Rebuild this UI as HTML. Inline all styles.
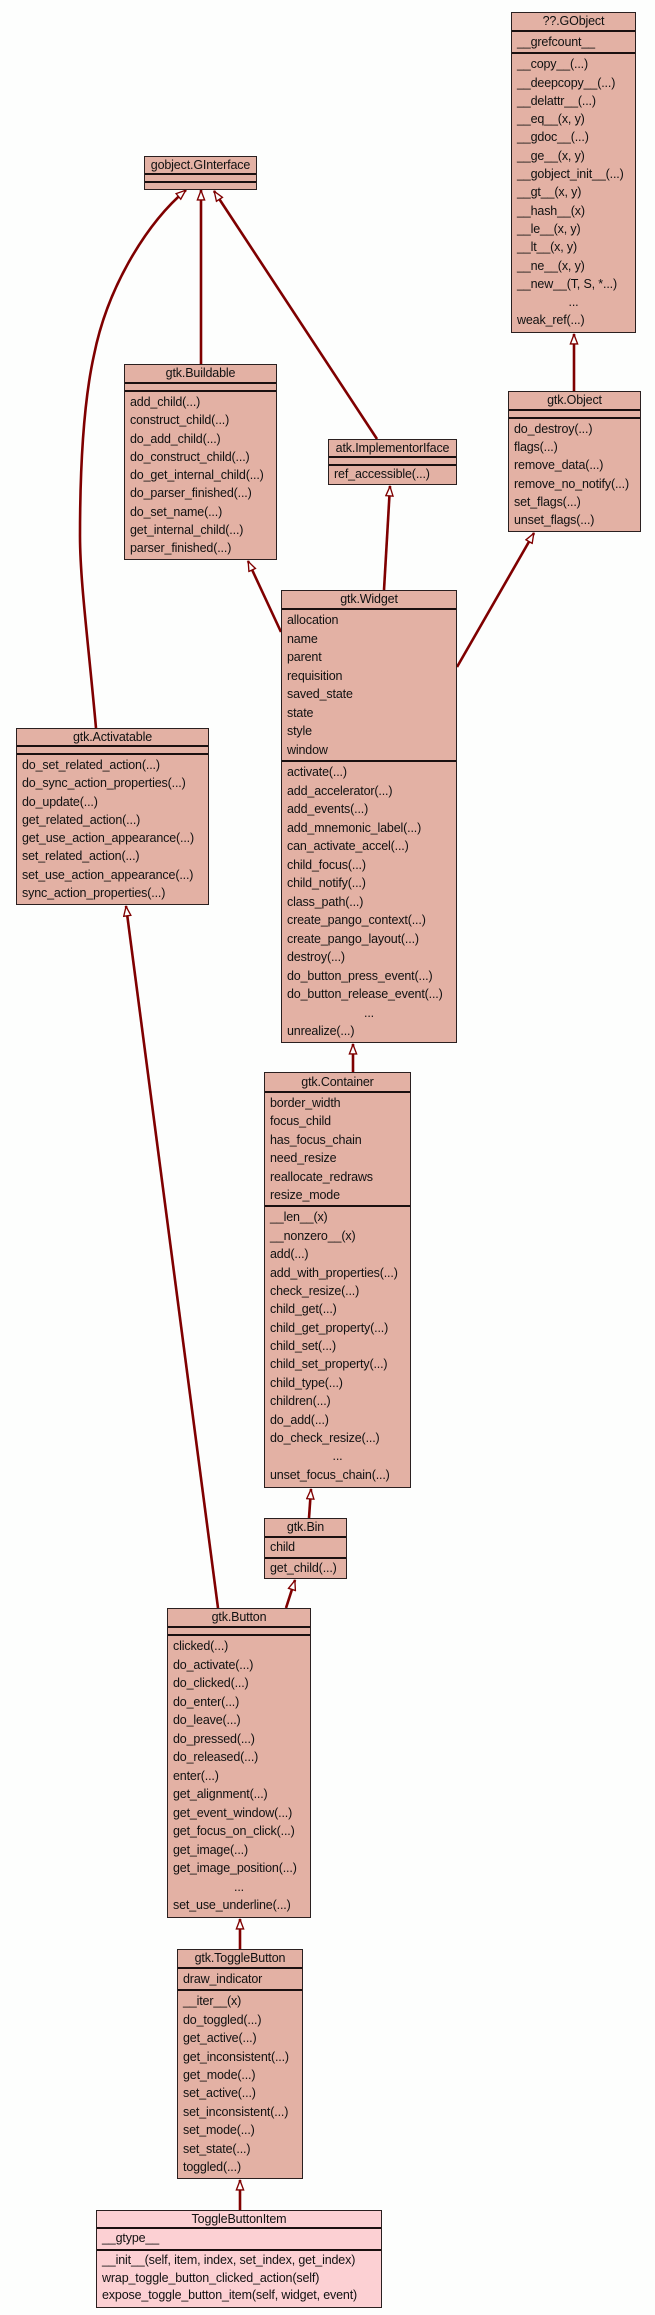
<!DOCTYPE html>
<html><head><meta charset="utf-8"><style>
html,body{margin:0;padding:0;background:#fdfefd;width:655px;height:2315px;overflow:hidden}
.b{position:absolute;box-sizing:border-box;border:1.5px solid #2a2020;background:#e3b1a4;font:12.5px "Liberation Sans",sans-serif;letter-spacing:-0.15px;color:#111;z-index:2}
.t{text-align:center;height:17px;line-height:17px;white-space:nowrap}
.s{border-top:2px solid #1a1010;padding:1px 0 1px 5px}
.s div{height:var(--r,18.4px);line-height:var(--r,18.4px);white-space:nowrap}
.s div.c{text-align:center;padding-right:5px}
.e{border-top:2px solid #1a1010;height:6px}
svg{position:absolute;left:0;top:0;z-index:1}
</style></head><body>
<svg width="655" height="2315">
<defs><marker id="a" viewBox="0 0 12 10" refX="12" refY="5" markerWidth="12" markerHeight="9" markerUnits="userSpaceOnUse" orient="auto"><path d="M1,1 L11.5,5 L1,9 z" fill="#fdfefd" stroke="#7f0000" stroke-width="1.5"/></marker></defs>
<g stroke="#7f0000" stroke-width="2.6" fill="none" marker-end="url(#a)">
<path d="M201,364 L201,190"/>
<path d="M96,728 C88,640 80,580 80,536 C80,460 84,400 94,355 C108,285 148,222 186,190"/>
<path d="M377,439 L214,191"/>
<path d="M384,590 L390,486"/>
<path d="M281,632 L248,561"/>
<path d="M457,667 L534,533"/>
<path d="M574,391 L574,334"/>
<path d="M353,1072 L353,1044"/>
<path d="M309,1518 L311,1489"/>
<path d="M286,1608 L295,1580"/>
<path d="M218,1608 L126,906"/>
<path d="M240,1949 L240,1919"/>
<path d="M240,2210 L240,2180"/>
</g></svg>

<div class="b" style="left:511px;top:12px;width:125px;height:321px">
<div class="t">??.GObject</div>
<div class="s" style="--r:18.3px"><div>__grefcount__</div></div>
<div class="s" style="--r:18.3px"><div>__copy__(...)</div><div>__deepcopy__(...)</div><div>__delattr__(...)</div><div>__eq__(x, y)</div><div>__gdoc__(...)</div><div>__ge__(x, y)</div><div>__gobject_init__(...)</div><div>__gt__(x, y)</div><div>__hash__(x)</div><div>__le__(x, y)</div><div>__lt__(x, y)</div><div>__ne__(x, y)</div><div>__new__(T, S, *...)</div><div class="c">...</div><div>weak_ref(...)</div></div>
</div>

<div class="b" style="left:144px;top:156px;width:113px;height:34px">
<div class="t" style="height:16px;line-height:16px">gobject.GInterface</div>
<div class="e"></div><div class="e" style="height:5px"></div>
</div>

<div class="b" style="left:124px;top:364px;width:153px;height:196px">
<div class="t">gtk.Buildable</div>
<div class="e"></div>
<div class="s" style="--r:18.3px"><div>add_child(...)</div><div>construct_child(...)</div><div>do_add_child(...)</div><div>do_construct_child(...)</div><div>do_get_internal_child(...)</div><div>do_parser_finished(...)</div><div>do_set_name(...)</div><div>get_internal_child(...)</div><div>parser_finished(...)</div></div>
</div>

<div class="b" style="left:328px;top:439px;width:129px;height:46px">
<div class="t" style="height:16px;line-height:16px">atk.ImplementorIface</div>
<div class="e"></div>
<div class="s" style="--r:15px"><div>ref_accessible(...)</div></div>
</div>

<div class="b" style="left:508px;top:391px;width:133px;height:141px">
<div class="t">gtk.Object</div>
<div class="e"></div>
<div class="s" style="--r:18.2px"><div>do_destroy(...)</div><div>flags(...)</div><div>remove_data(...)</div><div>remove_no_notify(...)</div><div>set_flags(...)</div><div>unset_flags(...)</div></div>
</div>

<div class="b" style="left:281px;top:590px;width:176px;height:453px">
<div class="t">gtk.Widget</div>
<div class="s" style="--r:18.5px"><div>allocation</div><div>name</div><div>parent</div><div>requisition</div><div>saved_state</div><div>state</div><div>style</div><div>window</div></div>
<div class="s" style="--r:18.5px"><div>activate(...)</div><div>add_accelerator(...)</div><div>add_events(...)</div><div>add_mnemonic_label(...)</div><div>can_activate_accel(...)</div><div>child_focus(...)</div><div>child_notify(...)</div><div>class_path(...)</div><div>create_pango_context(...)</div><div>create_pango_layout(...)</div><div>destroy(...)</div><div>do_button_press_event(...)</div><div>do_button_release_event(...)</div><div class="c">...</div><div>unrealize(...)</div></div>
</div>

<div class="b" style="left:16px;top:728px;width:193px;height:177px">
<div class="t" style="height:16px;line-height:16px">gtk.Activatable</div>
<div class="e"></div>
<div class="s" style="--r:18.25px"><div>do_set_related_action(...)</div><div>do_sync_action_properties(...)</div><div>do_update(...)</div><div>get_related_action(...)</div><div>get_use_action_appearance(...)</div><div>set_related_action(...)</div><div>set_use_action_appearance(...)</div><div>sync_action_properties(...)</div></div>
</div>

<div class="b" style="left:264px;top:1072px;width:147px;height:416px">
<div class="t" style="height:18px;line-height:18px">gtk.Container</div>
<div class="s" style="--r:18.4px"><div>border_width</div><div>focus_child</div><div>has_focus_chain</div><div>need_resize</div><div>reallocate_redraws</div><div>resize_mode</div></div>
<div class="s" style="--r:18.4px"><div>__len__(x)</div><div>__nonzero__(x)</div><div>add(...)</div><div>add_with_properties(...)</div><div>check_resize(...)</div><div>child_get(...)</div><div>child_get_property(...)</div><div>child_set(...)</div><div>child_set_property(...)</div><div>child_type(...)</div><div>children(...)</div><div>do_add(...)</div><div>do_check_resize(...)</div><div class="c">...</div><div>unset_focus_chain(...)</div></div>
</div>

<div class="b" style="left:264px;top:1518px;width:83px;height:61px">
<div class="t">gtk.Bin</div>
<div class="s" style="--r:16.5px"><div>child</div></div>
<div class="s" style="--r:16.5px"><div>get_child(...)</div></div>
</div>

<div class="b" style="left:167px;top:1608px;width:144px;height:310px">
<div class="t">gtk.Button</div>
<div class="e"></div>
<div class="s" style="--r:18.5px"><div>clicked(...)</div><div>do_activate(...)</div><div>do_clicked(...)</div><div>do_enter(...)</div><div>do_leave(...)</div><div>do_pressed(...)</div><div>do_released(...)</div><div>enter(...)</div><div>get_alignment(...)</div><div>get_event_window(...)</div><div>get_focus_on_click(...)</div><div>get_image(...)</div><div>get_image_position(...)</div><div class="c">...</div><div>set_use_underline(...)</div></div>
</div>

<div class="b" style="left:177px;top:1949px;width:126px;height:230px">
<div class="t">gtk.ToggleButton</div>
<div class="s" style="--r:18.4px"><div>draw_indicator</div></div>
<div class="s" style="--r:18.4px"><div>__iter__(x)</div><div>do_toggled(...)</div><div>get_active(...)</div><div>get_inconsistent(...)</div><div>get_mode(...)</div><div>set_active(...)</div><div>set_inconsistent(...)</div><div>set_mode(...)</div><div>set_state(...)</div><div>toggled(...)</div></div>
</div>

<div class="b" style="left:96px;top:2210px;width:286px;height:98px;background:#fcd0d3">
<div class="t" style="height:16px;line-height:16px">ToggleButtonItem</div>
<div class="s" style="--r:17.75px"><div>__gtype__</div></div>
<div class="s" style="--r:17.75px"><div>__init__(self, item, index, set_index, get_index)</div><div>wrap_toggle_button_clicked_action(self)</div><div>expose_toggle_button_item(self, widget, event)</div></div>
</div>
</body></html>
